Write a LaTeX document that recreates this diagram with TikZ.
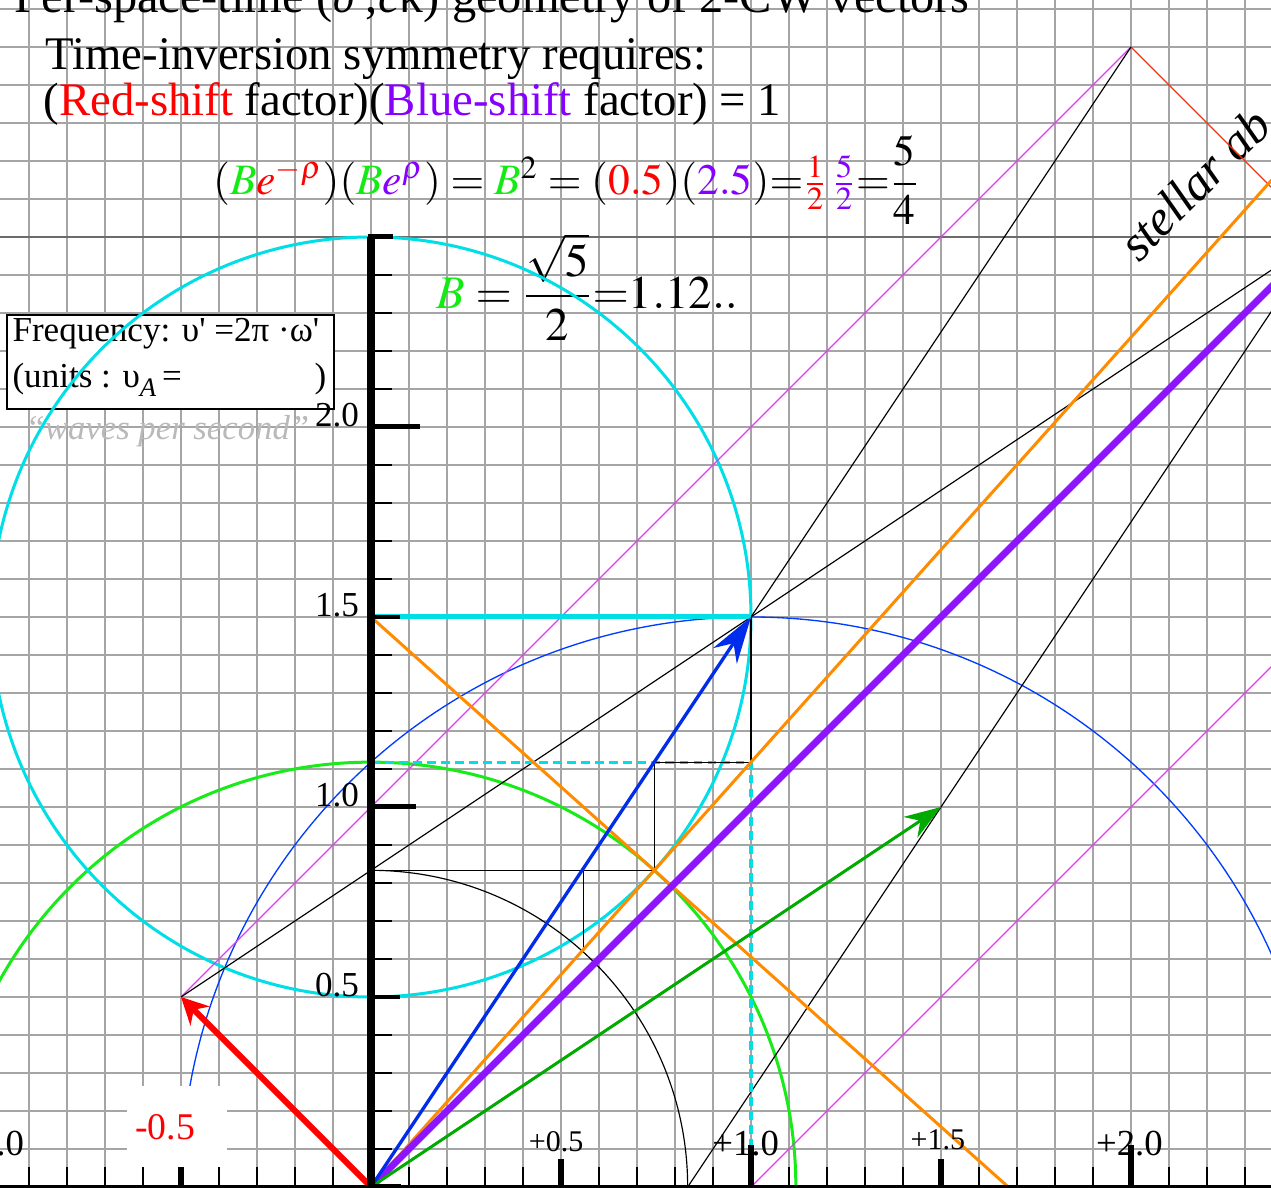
\documentclass[tikz,border=0pt]{standalone}
\usepackage{amsmath}
\usepackage{mathptmx}
\usepackage{fontspec}
\setmainfont{Liberation Serif}
\usetikzlibrary{arrows.meta, positioning, calc}
\definecolor{gridgray}{RGB}{165,165,165}
\definecolor{ringcyan}{RGB}{0,222,230}
\definecolor{ringgreen}{RGB}{25,235,25}
\definecolor{ringblue}{RGB}{0,60,255}
\definecolor{vecgreen}{RGB}{0,170,0}
\definecolor{vecblue}{RGB}{0,45,235}
\definecolor{vecred}{RGB}{255,0,0}
\definecolor{shiftpurple}{RGB}{140,20,255}
\definecolor{rayorange}{RGB}{255,140,0}
\definecolor{raymagenta}{RGB}{225,60,240}
\definecolor{rayred}{RGB}{240,50,20}
\definecolor{txtgreen}{RGB}{20,235,20}
\definecolor{txtpurple}{RGB}{135,0,255}
\definecolor{txtgray}{RGB}{185,185,185}

\begin{document}
\begin{tikzpicture}[x=4cm, y=4cm,
    gridln/.style={line width=0.45pt, color=gridgray},
    yaxis/.style={line width=2.1pt, color=black},
    minortick/.style={line width=0.4pt, color=black},
    halftick/.style={line width=1.2pt, color=black},
    unittick/.style={line width=1.5pt, color=black},
    ticklabel/.style={font=\fontsize{10.5}{12}\selectfont, anchor=base east,
                      inner sep=0pt},
    xlabel/.style={font=\fontsize{11}{13}\selectfont, anchor=base, inner sep=0pt},
    xhalflabel/.style={font=\fontsize{9}{11}\selectfont, anchor=base, inner sep=0pt},
    headline/.style={font=\fontsize{14}{16}\selectfont, anchor=base west,
                     inner sep=0pt},
    boxtext/.style={font=\fontsize{10.5}{12}\selectfont, anchor=base west,
                    inner sep=0pt},
    thinray/.style={line width=0.35pt, color=black},
    ring/.style={line width=0.9pt},
    cyandash/.style={line width=0.9pt, color=ringcyan,
                     dash pattern=on 2.6pt off 1.6pt},
    cyanbar/.style={line width=1.5pt, color=ringcyan},
    orangeray/.style={line width=0.9pt, color=rayorange},
    purpleray/.style={line width=2.1pt, color=shiftpurple},
]

\useasboundingbox (-0.97632,-0.00263) rectangle (2.36842,3.12368);
\clip (-0.97632,-0.00263) rectangle (2.36842,3.12368);

\pgfmathsetmacro{\Bv}{sqrt(5)/2}

% key points of the construction
\coordinate (O)    at (0,0);
\coordinate (P)    at (1,1.5);     % sum vector tip
\coordinate (R)    at (-0.5,0.5);  % red-shift tip
\coordinate (G)    at (1.5,1);     % green tip
\coordinate (T)    at (2,3);       % apex
\coordinate (S)    at (2.5,2.5);
\coordinate (A)    at (0,5/6);
\coordinate (Q)    at ({2*\Bv/3},5/6);
\coordinate (Qu)   at ({2*\Bv/3},\Bv);
\coordinate (Pb)   at (1,\Bv);
\coordinate (Yb)   at (0,\Bv);
\coordinate (Yp)   at (0,1.5);
\coordinate (Xone) at (1,0);
\coordinate (Xk)   at (5/6,0);
\coordinate (Xo)   at ({1.5*\Bv},0);
\coordinate (Hc)   at ({\Bv/2},{\Bv*\Bv/2});
\coordinate (Ha)   at ({\Bv/2},5/6);
\coordinate (M2)   at (2.5,1.5);
\coordinate (Ob)   at (2.5,{2.5*\Bv});

% ======================================================
% Graph paper: 0.1 grid
% ======================================================
\foreach \k in {-10,...,24}
  \draw[gridln] (\k/10,-0.1) -- (\k/10,3.2);
\foreach \k in {0,...,32}
  \draw[gridln] (-1.1,\k/10) -- (2.5,\k/10);
\draw[gridln, color=gridgray!65!black] (-1.1,2.5) -- (2.5,2.5);

% ======================================================
% Texts at top and the frequency box
% ======================================================
\node[headline, font=\fontsize{14.5}{16}\selectfont] (title) at (-0.9395,3.0895)
     {Per-space-time (\textit{υ}$'$,\textit{c}κ) geometry of 2-CW vectors};
\node[headline] (symline) at (-0.8579,2.9403) {Time-inversion symmetry requires:};
\node[headline] (factline) at (-0.8632,2.8184)
     {(\textcolor{vecred}{Red-shift} factor)(\textcolor{txtpurple}{Blue-shift} factor) = 1};
\node[headline, font=\fontsize{13}{15}\selectfont] (shiftprod) at (-0.4171,2.6113)
     {$(\textcolor{txtgreen}{B}\textcolor{vecred}{e^{-\rho}})(\textcolor{txtgreen}{B}\textcolor{txtpurple}{e^{\rho}})
       = \textcolor{txtgreen}{B}^{2} = (\textcolor{vecred}{0.5})(\textcolor{txtpurple}{2.5}){=}
       \textcolor{vecred}{\tfrac{1}{2}}\,\textcolor{txtpurple}{\tfrac{5}{2}}{=}\dfrac{5}{4}$};
\node[headline] (Bdef) at (0.171,2.313)
     {$\textcolor{txtgreen}{B} = \dfrac{\sqrt{5}}{2}{=}1.12..$};

\node[draw=black, line width=0.6pt, fill=white, inner sep=0pt,
      minimum width=3.44cm, minimum height=0.992cm] (freqbox) at (-0.527,2.172) {};
\node[boxtext] (freqA) at (-0.945,2.226)
     {Frequency: υ\textquotesingle\ =2π ·ω\textquotesingle};
\node[boxtext] (freqB) at (-0.945,2.103)
     {\makebox[94pt][l]{(units : υ\raisebox{-0.55ex}{\fontsize{8}{8}\selectfont\textit{A}}\,=\hfill)}};
\node[boxtext, font=\fontsize{10.4}{12}\selectfont\itshape, text=txtgray]
     (waves) at (-0.9105,1.9666) {“waves per second”};

\node[anchor=base west, inner sep=0pt, rotate=45,
      font=\fontsize{15}{17}\selectfont\itshape] (stellar) at (2.02,2.43) {stellar ab};

% ======================================================
% Circles
% ======================================================
\draw[ring, line width=0.4pt, color=ringblue] (Xone) circle[radius=1.5];
\draw[ring, color=ringgreen] (O) circle[radius=\Bv];
\draw[ring, color=ringcyan] (Yp) circle[radius=1];
\draw[thinray] (A) arc[start angle=90, end angle=0, radius=5/6];

% ======================================================
% Rays and construction lines
% ======================================================
\draw[thinray, color=raymagenta] (R) -- (T);
\draw[thinray, color=raymagenta] (Xone) -- (M2);
\draw[thinray, color=rayred] (T) -- (S);
\draw[thinray] (R) -- (S);
\draw[thinray] (P) -- (T);
\draw[thinray] (Xk) -- (S);
\draw[cyandash] (Yb) -- (Pb) -- (Xone);
\draw[thinray] (A) -- (Q) -- (Qu) -- (Pb) -- (P);
\draw[thinray] (Hc) -- (Ha);
\draw[cyanbar] (Yp) -- (P);
\draw[orangeray] (O) -- (Ob);
\draw[orangeray] (Yp) -- (Xo);
\draw[purpleray] (O) -- (S);

% vectors
\draw[line width=0.9pt, color=vecgreen, -{Stealth[length=11pt,width=7.5pt]}] (O) -- (G);
\draw[line width=1pt, color=vecblue, -{Stealth[length=14pt,width=8.5pt]}] (O) -- (P);
\draw[line width=1.8pt, color=vecred, -{Stealth[length=8pt,width=8pt]}] (O) -- (R);

% label box for the red-shift value
\fill[white] (-0.643,0.024) rectangle (-0.380,0.266);
\node[anchor=base, inner sep=0pt, text=vecred, font=\fontsize{11.3}{13}\selectfont]
     (redval) at (-0.542,0.1245) {-0.5};

% ======================================================
% Axes, ticks and tick labels
% ======================================================
\draw[yaxis] (0,0) -- (0,2.5);
\draw[unittick] (-0.009,2.5) -- (0.058,2.5);
\draw[line width=1pt] (-1.1,0) -- (2.5,0);
\draw[line width=2pt] (0,0) -- (0.08,0);
\foreach \y in {0.1,0.2,0.3,0.4,0.6,0.7,0.8,0.9,1.1,1.2,1.3,1.4,
                1.6,1.7,1.8,1.9,2.1,2.2,2.3,2.4}
  \draw[minortick] (0,\y) -- (0.055,\y);
\foreach \y in {0.5,1.5}
  \draw[halftick] (0,\y) -- (0.076,\y);
\foreach \y/\len in {1.0/0.118, 2.0/0.13}
  \draw[unittick] (0,\y) -- (\len,\y);
\foreach \y [count=\i] in {0.5,1.0,1.5,2.0}
  \node[ticklabel] (ylab\i) at (-0.03,\y) {\y};

\foreach \x in {-0.9,-0.8,-0.7,-0.6,-0.4,-0.3,-0.2,-0.1,0.1,0.2,0.3,0.4,
                0.6,0.7,0.8,0.9,1.1,1.2,1.3,1.4,1.6,1.7,1.8,1.9,2.1,2.2,2.3}
  \draw[minortick] (\x,0) -- (\x,0.053);
\draw[unittick] (-0.5,0) -- (-0.5,0.053);
\foreach \x in {0.5,1.5}
  \draw[unittick] (\x,0) -- (\x,0.074);
\foreach \x in {-1.0,1.0,2.0}
  \draw[unittick] (\x,0) -- (\x,0.11);

\node[xlabel] (xlabm) at (-0.99,0.0816) {-1.0};
\node[xlabel] (xlab1) at (0.986,0.0816) {+1.0};
\node[xlabel] (xlab2) at (1.996,0.084) {+2.0};
\node[xhalflabel] (xlabh1) at (0.487,0.0947) {+0.5};
\node[xhalflabel] (xlabh3) at (1.492,0.098) {+1.5};

\end{tikzpicture}
\end{document}
